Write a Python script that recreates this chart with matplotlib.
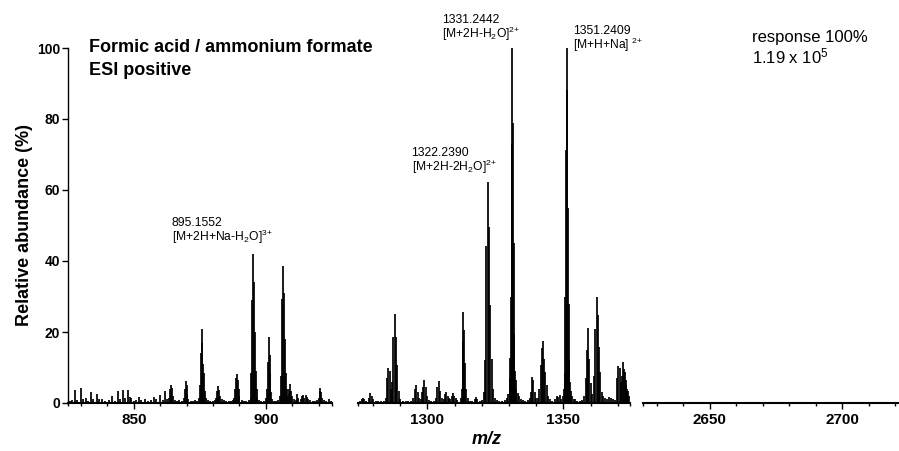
import numpy as np
import matplotlib
matplotlib.use('Agg')
import matplotlib.pyplot as plt

plt.rcParams['font.family'] = ['Liberation Sans', 'DejaVu Sans']
plt.rcParams['mathtext.default'] = 'regular'

# ---- data ----
# segment 1: m/z 825-925
mz_a = [825.8, 826.6, 827.7, 828.5, 829.9, 830.8, 831.8, 832.7, 833.8, 834.6,
        836.0, 836.9, 837.9, 839.2, 840.5, 841.9, 842.8, 843.9, 844.8, 845.9,
        846.7, 847.8, 848.4, 849.1, 850.2, 851.0, 851.8, 852.9, 854.3, 855.5,
        856.4, 857.6, 858.5, 860.1, 860.9, 861.9, 862.7,
        863.4, 863.8, 864.1, 864.4, 864.8, 865.5, 866.4, 867.3, 868.2,
        869.0, 869.3, 869.7, 870.0, 870.3, 870.7, 871.5, 872.4, 873.3, 874.1,
        874.7, 875.0, 875.3, 875.65, 876.0, 876.3, 876.6, 877.0, 877.3, 878.0, 878.9, 879.8, 880.6,
        881.1, 881.5, 881.8, 882.1, 882.5, 883.2, 884.1, 885.0, 886.0, 886.9, 887.6,
        888.1, 888.4, 888.7, 889.0, 889.35, 889.7, 890.0, 890.8, 891.7, 892.6, 893.5,
        894.2, 894.5, 894.85, 895.16, 895.5, 895.8, 896.15, 896.5, 896.8, 897.5, 898.3, 899.1,
        900.0, 900.4, 900.7, 901.05, 901.4, 901.7, 902.0, 902.4, 903.1, 903.9, 904.6,
        905.3, 905.6, 906.0, 906.4, 906.75, 907.1, 907.45, 907.8, 908.1,
        908.6, 908.9, 909.2, 909.6, 909.9, 910.5, 911.2,
        911.9, 912.3, 913.1, 913.6, 914.0, 914.5, 915.0, 915.4, 916.0, 916.8, 917.7, 918.6, 919.3,
        919.9, 920.3, 920.6, 921.0, 921.3, 922.0, 922.8, 923.7, 924.5]
ab_a = [0.6, 0.9, 3.6, 0.8, 4.1, 1.2, 1.5, 0.7, 3.0, 1.1,
        2.6, 1.0, 1.2, 0.6, 0.8, 2.0, 0.7, 3.5, 1.0, 3.6,
        1.3, 3.8, 1.8, 1.5, 0.7, 0.9, 1.6, 0.8, 1.0, 0.6,
        0.8, 1.6, 1.1, 2.2, 0.9, 3.4, 1.2,
        1.5, 4.0, 5.1, 4.2, 2.0, 0.9, 0.6, 0.8, 0.7,
        1.5, 4.0, 6.2, 5.0, 2.5, 1.2, 0.7, 0.6, 0.8, 0.7,
        1.5, 5.0, 14.2, 20.8, 17.0, 11.0, 8.4, 3.5, 1.5, 0.8, 0.6, 0.7, 0.9,
        1.5, 3.5, 4.8, 3.8, 2.0, 1.0, 0.8, 0.6, 0.7, 0.6, 0.9,
        1.5, 4.0, 7.0, 8.1, 6.5, 4.0, 2.0, 0.8, 0.6, 0.7, 0.9,
        1.5, 8.5, 29.0, 42.0, 34.2, 20.0, 9.0, 4.0, 1.5, 0.8, 0.6, 0.7,
        1.5, 4.0, 11.6, 18.5, 13.5, 8.4, 3.0, 1.2, 0.7, 0.6, 0.9,
        2.0, 7.5, 29.2, 38.6, 30.9, 18.1, 8.4, 4.0, 2.0,
        2.5, 4.0, 5.3, 3.5, 2.0, 1.0, 0.8,
        2.5, 1.5, 1.2, 2.0, 2.2, 1.5, 2.3, 1.8, 1.2, 0.8, 0.6, 0.7, 0.9,
        1.5, 3.5, 4.2, 3.0, 1.5, 0.8, 0.6, 1.0, 0.7]

# segment 2: m/z 1274.5-1374.5
mz_b = [1275.2, 1276.0, 1276.4, 1276.8, 1277.6, 1278.5, 1279.0, 1279.5, 1280.0, 1281.0, 1282.0, 1283.0, 1284.0,
        1284.7, 1285.2, 1285.6, 1286.1, 1286.6, 1287.1, 1287.5, 1288.0, 1288.5, 1289.0, 1289.5, 1290.0,
        1291.0, 1292.0, 1293.0, 1294.0,
        1294.9, 1295.4, 1295.9, 1296.4, 1296.9, 1297.5, 1298.0, 1298.4, 1298.9, 1299.4, 1299.9,
        1300.5, 1301.5, 1302.5,
        1303.2, 1303.7, 1304.2, 1304.7, 1305.2, 1306.0, 1306.5, 1307.0, 1307.5, 1308.0, 1308.5,
        1309.0, 1309.4, 1309.9, 1310.4, 1311.0,
        1312.2, 1312.7, 1313.0, 1313.2, 1313.5, 1313.9, 1314.3, 1314.8, 1315.5, 1316.5,
        1317.4, 1317.9, 1318.4, 1319.2, 1320.0,
        1320.7, 1321.2, 1321.7, 1322.24, 1322.7, 1323.2, 1323.7, 1324.2, 1324.7,
        1325.5, 1326.5, 1327.5, 1328.5,
        1329.25, 1329.75, 1330.25, 1330.5, 1330.75, 1331.0, 1331.24, 1331.5, 1331.75, 1332.0,
        1332.25, 1332.5, 1332.75, 1333.25, 1333.75, 1334.25, 1335.0, 1336.0, 1337.0,
        1337.6, 1338.0, 1338.5, 1339.0, 1339.5, 1340.0, 1340.5, 1341.0, 1341.6, 1342.1,
        1342.5, 1342.9, 1343.3, 1343.9, 1344.4, 1345.0, 1346.0, 1347.0, 1347.6, 1348.2, 1348.8, 1349.3,
        1349.75, 1350.25, 1350.5, 1350.75, 1351.0, 1351.24, 1351.5, 1351.75, 1352.0, 1352.25,
        1352.5, 1352.75, 1353.25, 1353.75, 1354.25, 1355.0, 1356.0, 1357.0,
        1357.7, 1358.15, 1358.65, 1359.1, 1359.6, 1360.1, 1360.6,
        1361.25, 1361.75, 1362.25, 1362.7, 1363.15, 1363.65, 1364.15, 1364.7, 1365.3,
        1366.0, 1366.8, 1367.5, 1368.2, 1368.9,
        1369.65, 1370.15, 1370.65, 1371.1, 1371.4, 1371.85, 1372.2, 1372.55, 1372.9,
        1373.15, 1373.5, 1373.75, 1374.1]
ab_b = [0.6, 1.0, 1.4, 1.0, 0.6, 1.5, 2.9, 2.0, 1.0, 0.6, 0.5, 0.6, 0.7,
        1.5, 7.0, 9.8, 9.0, 4.0, 6.0, 18.6, 25.0, 18.6, 10.7, 3.5, 1.2,
        0.6, 0.5, 0.6, 0.7,
        1.5, 4.0, 5.1, 3.0, 1.5, 1.0, 3.0, 4.5, 6.5, 4.5, 2.0,
        0.8, 0.6, 0.7,
        1.5, 4.5, 6.2, 3.5, 1.5, 1.2, 2.5, 3.1, 2.0, 1.5, 1.2,
        2.0, 2.8, 2.0, 1.5, 0.8,
        1.5, 4.0, 17.5, 25.5, 20.6, 11.3, 4.0, 1.5, 0.7, 0.6,
        1.2, 1.7, 1.0, 0.6, 0.8,
        3.0, 12.0, 44.2, 62.3, 49.7, 27.6, 12.4, 4.0, 1.5,
        0.8, 0.6, 0.7, 0.9,
        1.5, 2.5, 7.0, 12.7, 30.0, 73.0, 100.0, 78.8, 45.0, 19.4,
        9.0, 6.5, 4.0, 2.8, 2.0, 1.2, 0.8, 0.6, 0.8,
        1.5, 3.0, 7.4, 6.5, 3.0, 1.5, 1.5, 4.0, 10.7, 15.4,
        17.5, 12.4, 8.7, 5.0, 2.0, 1.0, 0.7, 1.0, 2.0, 1.8, 2.2, 1.2,
        2.0, 4.0, 8.4, 30.0, 71.3, 100.0, 88.2, 55.0, 28.0, 12.0,
        6.0, 3.5, 2.0, 1.2, 1.0, 0.7, 0.6, 0.8,
        2.0, 7.0, 14.9, 21.2, 12.4, 5.5, 2.5,
        7.6, 20.8, 30.0, 24.8, 15.9, 8.7, 3.0, 2.0, 1.5,
        1.2, 1.8, 1.5, 1.2, 0.8,
        7.0, 10.5, 9.8, 6.0, 7.6, 11.5, 9.5, 8.7, 6.5,
        5.0, 4.0, 3.5, 2.0]

# segment 3: m/z 2625-2725, no signal
mz_c = []
ab_c = []

xlims = [(825, 925), (1274.5, 1374.5), (2625, 2725)]
major_ticks = [[850, 900], [1300, 1350], [2650, 2700]]
y_ticks = [0, 20, 40, 60, 80, 100]

ann_mass = ['895.1552', '1322.2390', '1331.2442', '1351.2409']
ann_ion = ['[M+2H+Na-H$_2$O]$^{3{+}}$', '[M+2H-2H$_2$O]$^{2{+}}$',
           '[M+2H-H$_2$O]$^{2{+}}$', '[M+H+Na] $^{2{+}}$']

W, H = 899, 451
fig = plt.figure(figsize=(W / 100, H / 100), dpi=100)

def fx(p):
    return p / W

def fy(p):
    return 1 - p / H

# axes boxes in pixels (left, right)
boxes = [(67.7, 332.0), (358.0, 630.0), (643.3, 908.3)]
y_top, y_bot = 48.0, 403.0

axes = []
for i, (l, r) in enumerate(boxes):
    ax = fig.add_axes([fx(l), fy(y_bot), (r - l) / W, (y_bot - y_top) / H])
    ax.set_facecolor('none')
    axes.append(ax)

datasets = [(mz_a, ab_a), (mz_b, ab_b), (mz_c, ab_c)]
for i, ax in enumerate(axes):
    mz, ab = datasets[i]
    if len(mz):
        ax.vlines(mz, 0, ab, color='black', lw=1.25)
    lo, hi = xlims[i]
    ax.set_xlim(lo, hi)
    ax.set_ylim(0, 100)
    for s in ['top', 'right']:
        ax.spines[s].set_visible(False)
    if i > 0:
        ax.spines['left'].set_visible(False)
        ax.set_yticks([])
    ax.spines['bottom'].set_linewidth(1.5)
    ax.spines['left'].set_linewidth(1.0)
    ax.set_xticks(major_ticks[i])
    minor = [lo] + list(np.arange(np.ceil(lo / 10) * 10, hi + 0.1, 10)) + [hi]
    ax.set_xticks(minor, minor=True)
    ax.tick_params(axis='x', which='major', length=4, width=1.0, labelsize=11, pad=3)
    ax.tick_params(axis='x', which='minor', length=2, width=1.0)
    for lab in ax.get_xticklabels():
        lab.set_fontweight('bold')

ax1 = axes[0]
ax1.set_yticks(y_ticks)
ax1.tick_params(axis='y', length=4.3, width=1.0, labelsize=10, pad=1)
for lab in ax1.get_yticklabels():
    lab.set_fontweight('bold')
ax1.set_ylabel('Relative abundance (%)', fontsize=13, fontweight='bold')
ax1.yaxis.set_label_coords(-0.13, 0.5)

# header texts
fig.text(fx(89.3), fy(51.7), 'Formic acid / ammonium formate', fontsize=13,
         fontweight='bold', va='baseline')
fig.text(fx(89.3), fy(75.0), 'ESI positive', fontsize=13, fontweight='bold', va='baseline')
fig.text(fx(751.7), fy(41.7), 'response 100%', fontsize=12, va='baseline')
fig.text(fx(751.7), fy(63.3), '1.19 x 10$^5$', fontsize=12, va='baseline')

# peak labels
ann_pos = [(171.7, 226.0), (411.5, 156.0), (441.7, 22.7), (573.3, 34.3)]
for (x, y), m, ion in zip(ann_pos, ann_mass, ann_ion):
    fig.text(fx(x), fy(y), m, fontsize=8.7, va='baseline')
    fig.text(fx(x), fy(y + 15), ion, fontsize=8.7, va='baseline')

fig.text(fx(486.7), fy(444), 'm/z', fontsize=13, fontweight='bold', style='italic',
         ha='center', va='baseline')

fig.savefig('out.png', dpi=100)
